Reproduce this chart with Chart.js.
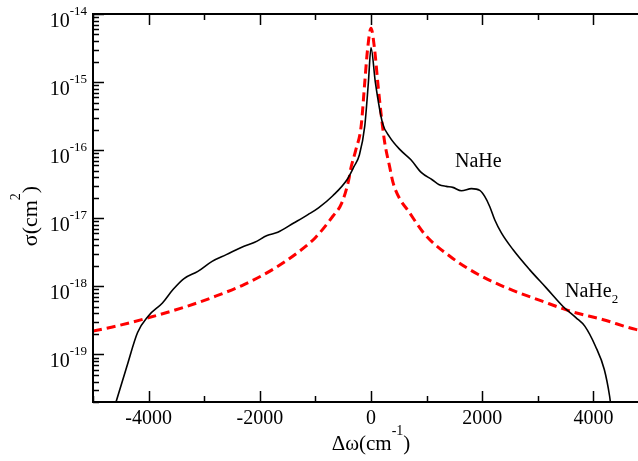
<!DOCTYPE html>
<html lang="en">
  <head>
    <meta charset="UTF-8" />
    <title>NaHe / NaHe2 cross section</title>
    <script src="https://cdn.jsdelivr.net/npm/chart.js@4.5.0/dist/chart.umd.min.js"></script>
    <style>
      body { margin: 0; overflow: hidden; background: #fff; }
    </style>
  </head>
  <body>
    <canvas id="myChart" width="660" height="461"></canvas>

    <script>
      // NaHe (black solid)
      const naheX = [-4620, -4582, -4390, -4198, -4008, -3751, -3561, -3369, -3114, -2858, -2603, -2284, -2092, -1869, -1677, -1390, -1134, -944, -687, -432, -305, -208, -113, -48, 0, 79, 206, 334, 526, 718, 908, 1100, 1227, 1354, 1471, 1627, 1807, 1956, 2045, 2135, 2225, 2345, 2553, 2852, 3152, 3450, 3690, 3845, 4037, 4196, 4291, 4320];
      const naheY = [1.6e-20, 2.05e-20, 6.7e-20, 2.1e-19, 3.65e-19, 5.7e-19, 8.97e-19, 1.29e-18, 1.66e-18, 2.33e-18, 2.92e-18, 3.87e-18, 4.43e-18, 5.56e-18, 6.21e-18, 8.5e-18, 1.13e-17, 1.42e-17, 2.14e-17, 3.68e-17, 5.77e-17, 8.57e-17, 2.23e-16, 9.6e-16, 3.2e-15, 9.8e-16, 2.52e-16, 1.57e-16, 1.01e-16, 7.23e-17, 4.67e-17, 3.68e-17, 3.11e-17, 2.94e-17, 2.84e-17, 2.54e-17, 2.72e-17, 2.56e-17, 2.09e-17, 1.49e-17, 9.5e-18, 6.1e-18, 3.47e-18, 1.76e-18, 9.5e-19, 5.1e-19, 3.45e-19, 2.6e-19, 1.32e-19, 6.0e-20, 2.45e-20, 1.6e-20];

      // NaHe2 (red dashed)
      const nahe2X = [-5000, -4582, -4008, -3305, -2795, -2284, -1772, -1326, -1006, -687, -527, -400, -368, -273, -178, -113, -63, 0, 66, 129, 239, 334, 398, 526, 653, 972, 1419, 1930, 2440, 3079, 3590, 4164, 4760, 5000];
      const nahe2Y = [2.2e-19, 2.6e-19, 3.45e-19, 5.1e-19, 7.16e-19, 1.06e-18, 1.76e-18, 3.1e-18, 5.14e-18, 1.07e-17, 1.67e-17, 3.68e-17, 5.17e-17, 1.01e-16, 2.23e-16, 9.7e-16, 2.96e-15, 6.2e-15, 2.96e-15, 8.6e-16, 1.42e-16, 5.77e-17, 3.3e-17, 1.87e-17, 1.34e-17, 5.75e-18, 2.76e-18, 1.49e-18, 9.5e-19, 6.05e-19, 4.3e-19, 3.26e-19, 2.33e-19, 2.15e-19];

      const xTickLabels = [-4000, -2000, 0, 2000, 4000];
      const yDecades = [-19, -18, -17, -16, -15, -14];

      const FONT = '"Liberation Serif", "Times New Roman", serif';

      // draws text in pieces, small pieces raised by dy
      function drawParts(ctx, parts, x, y) {
        let cx = x;
        parts.forEach((p) => {
          ctx.font = p.size + "px " + FONT;
          ctx.fillText(p.t, cx, y - (p.dy || 0));
          cx += ctx.measureText(p.t).width;
        });
      }
      function partsWidth(ctx, parts) {
        let w = 0;
        parts.forEach((p) => {
          ctx.font = p.size + "px " + FONT;
          w += ctx.measureText(p.t).width;
        });
        return w;
      }

      const framePlugin = {
        id: "frame",
        afterDraw(chart) {
          const { ctx, chartArea: a } = chart;
          const xs = chart.scales.x;
          const ys = chart.scales.y;
          ctx.save();
          ctx.strokeStyle = "#000";
          ctx.fillStyle = "#000";
          ctx.lineWidth = 1.5;
          ctx.beginPath();
          // x ticks, bottom and top, pointing inward
          for (let v = -5000; v <= 5000; v += 1000) {
            const px = Math.round(xs.getPixelForValue(v)) + 0.5;
            const len = v % 2000 === 0 ? 11 : 6;
            ctx.moveTo(px, a.bottom);
            ctx.lineTo(px, a.bottom - len);
            ctx.moveTo(px, a.top);
            ctx.lineTo(px, a.top + len);
          }
          // y log ticks, left and right
          for (let e = -21; e <= -14; e++) {
            for (let m = 1; m <= 9; m++) {
              const v = m * Math.pow(10, e);
              if (v < ys.min * 0.999 || v > ys.max * 1.001) continue;
              const py = Math.round(ys.getPixelForValue(v)) + 0.5;
              const len = m === 1 ? 11 : 6;
              ctx.moveTo(a.left, py);
              ctx.lineTo(a.left + len, py);
              ctx.moveTo(a.right, py);
              ctx.lineTo(a.right - len, py);
            }
          }
          ctx.stroke();

          ctx.lineWidth = 2;
          ctx.strokeRect(a.left, a.top, a.right - a.left, a.bottom - a.top);

          // x tick labels
          ctx.textBaseline = "alphabetic";
          ctx.textAlign = "center";
          ctx.font = "20px " + FONT;
          xTickLabels.forEach((v) => {
            ctx.fillText(String(v), xs.getPixelForValue(v), a.bottom + 22);
          });

          // y tick labels 10^n
          ctx.textAlign = "left";
          yDecades.forEach((e) => {
            const py = ys.getPixelForValue(Math.pow(10, e));
            const parts = [
              { t: "10", size: 20 },
              { t: String(e), size: 13, dy: 12 },
            ];
            const w = partsWidth(ctx, parts);
            drawParts(ctx, parts, a.left - 6 - w, py + 12.5);
          });

          // x axis title
          const xt = [
            { t: "\u0394\u03c9(cm", size: 21 },
            { t: "-1", size: 14, dy: 15 },
            { t: ")", size: 21 },
          ];
          const xw = partsWidth(ctx, xt);
          drawParts(ctx, xt, xs.getPixelForValue(0) - xw / 2, 450);

          // y axis title, rotated
          const yt = [
            { t: "\u03c3(cm", size: 22 },
            { t: "2", size: 14, dy: 17 },
            { t: ")", size: 22 },
          ];
          const yw = partsWidth(ctx, yt);
          ctx.save();
          ctx.translate(37, 216);
          ctx.rotate(-Math.PI / 2);
          drawParts(ctx, yt, -yw / 2, 0);
          ctx.restore();

          // curve labels
          drawParts(ctx, [{ t: "NaHe", size: 20 }], 455, 167);
          drawParts(ctx, [{ t: "NaHe", size: 20 }, { t: "2", size: 13, dy: -6 }], 565, 297);

          ctx.restore();
        },
      };

      const ctx = document.getElementById("myChart");
      new Chart(ctx, {
        type: "line",
        data: {
          datasets: [
            {
              label: "NaHe",
              data: naheX.map((x, i) => ({ x: x, y: naheY[i] })),
              borderColor: "#000000",
              borderWidth: 1.6,
              pointRadius: 0,
              cubicInterpolationMode: "monotone",
              clip: 0,
            },
            {
              label: "NaHe2",
              data: nahe2X.map((x, i) => ({ x: x, y: nahe2Y[i] })),
              borderColor: "#ff0000",
              borderWidth: 3,
              borderDash: [9, 5],
              pointRadius: 0,
              cubicInterpolationMode: "monotone",
              clip: 0,
            },
          ],
        },
        options: {
          responsive: false,
          animation: false,
          layout: { padding: { left: 93, right: 11, top: 14, bottom: 59 } },
          plugins: {
            legend: { display: false },
            tooltip: { enabled: false },
          },
          scales: {
            x: { type: "linear", min: -5000, max: 5000, display: false },
            y: { type: "logarithmic", min: 2e-20, max: 1e-14, display: false },
          },
        },
        plugins: [framePlugin],
      });
    </script>
  </body>
</html>
